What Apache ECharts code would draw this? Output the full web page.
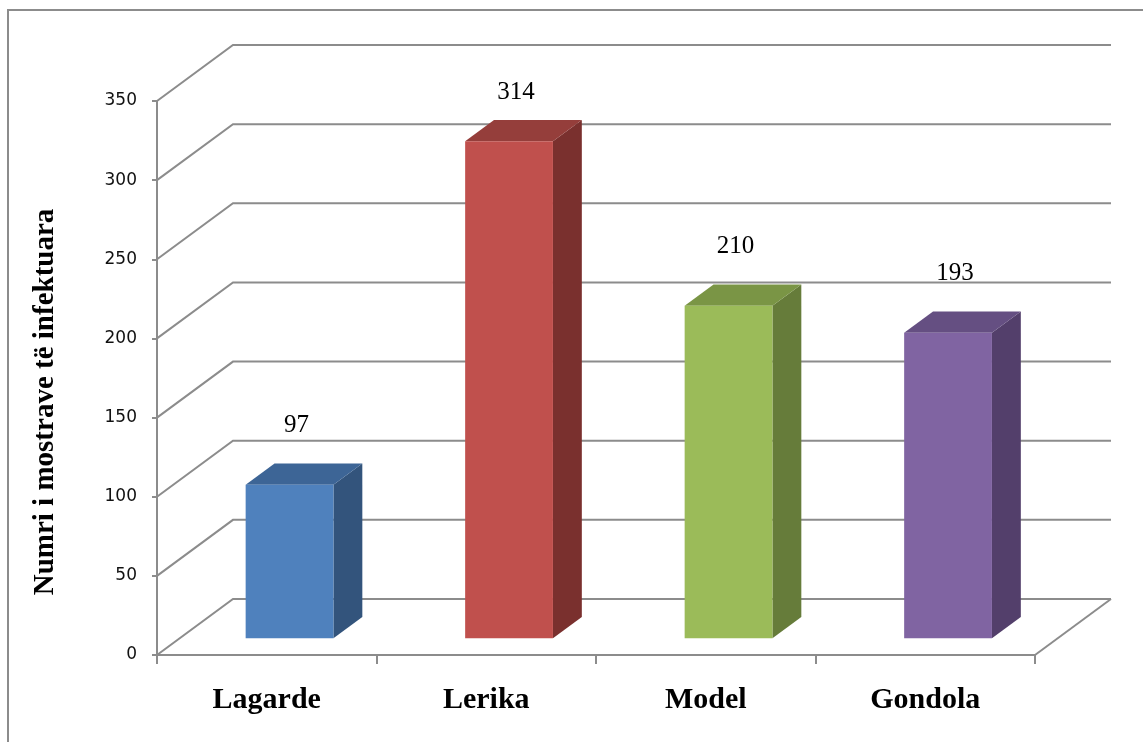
<!DOCTYPE html>
<html>
<head>
<meta charset="utf-8">
<style>
  html, body { margin: 0; padding: 0; background: #fff; }
  #chart { width: 1143px; height: 742px; }
</style>
<script src="https://cdn.jsdelivr.net/npm/echarts@6/dist/echarts.min.js"></script>
</head>
<body>
<div id="chart"></div>
<script>
// te dhenat
var categories = ['Lagarde', 'Lerika', 'Model', 'Gondola'];
var values = [97, 314, 210, 193];
var yTicks = [0, 50, 100, 150, 200, 250, 300, 350];

// ngjyrat e shtyllave (para, siper, anash)
var frontColors = ['#4F81BD', '#C0504D', '#9BBB59', '#8064A2'];
var topColors = ['#3D6596', '#953E3B', '#7A9545', '#654F82'];
var sideColors = ['#33547C', '#7A302E', '#667C3A', '#533F6B'];

var gridColor = '#8C8C8C';
// zhvendosja e murit te pasem (perspektiva)
var DX = 76, DY = -56;

var chart = echarts.init(document.getElementById('chart'));

var option = {
  animation: false,
  backgroundColor: '#fff',
  grid: { left: 157, top: 101, width: 878, height: 554 },
  graphic: [
    {
      type: 'rect',
      shape: { x: 8, y: 10, width: 1200, height: 800 },
      style: { fill: 'none', stroke: '#8C8C8C', lineWidth: 2 },
      silent: true
    },
    {
      type: 'text',
      x: 46, y: 402,
      rotation: Math.PI / 2,
      style: {
        text: 'Numri i mostrave të infektuara',
        font: 'bold 29px "Liberation Serif", serif',
        fill: '#000',
        align: 'center',
        verticalAlign: 'middle'
      }
    }
  ],
  xAxis: {
    type: 'category',
    data: categories,
    boundaryGap: true,
    axisLine: { lineStyle: { color: gridColor, width: 2 } },
    axisTick: { show: true, length: 9, lineStyle: { color: gridColor, width: 2 } },
    axisLabel: {
      margin: 30,
      color: '#000',
      fontFamily: 'Liberation Serif',
      fontWeight: 'bold',
      fontSize: 30
    }
  },
  yAxis: {
    type: 'value',
    min: 0,
    max: 350,
    interval: 50,
    axisLine: { show: true, lineStyle: { color: gridColor, width: 2 } },
    axisTick: { show: true, length: 5, lineStyle: { color: gridColor, width: 2 } },
    splitLine: { show: false },
    axisLabel: {
      margin: 20,
      color: '#111',
      fontFamily: 'DejaVu Sans',
      fontSize: 17
    }
  },
  series: [
    {
      // muret dhe vijat e rrjetit
      type: 'custom',
      z: 1,
      silent: true,
      data: yTicks.map(function (v) { return [0, v]; }),
      renderItem: function (params, api) {
        var cs = params.coordSys;
        var v = api.value(1);
        var yf = api.coord([0, v])[1];
        var x0 = cs.x, x1 = cs.x + cs.width;
        var children = [{
          type: 'polyline',
          shape: { points: [[x0, yf], [x0 + DX, yf + DY], [x1 + DX, yf + DY]] },
          style: { stroke: gridColor, lineWidth: 2, fill: 'none' }
        }];
        if (v === 0) {
          children.push({
            type: 'line',
            shape: { x1: x1, y1: yf, x2: x1 + DX, y2: yf + DY },
            style: { stroke: gridColor, lineWidth: 2 }
          });
        }
        return { type: 'group', children: children };
      }
    },
    {
      // shtyllat 3D
      type: 'custom',
      z: 2,
      data: values.map(function (v, i) { return [i, v]; }),
      renderItem: function (params, api) {
        var cs = params.coordSys;
        var i = api.value(0), v = api.value(1);
        var top = api.coord([i, v]);
        var base = api.coord([i, 0]);
        var band = api.size([1, 0])[0];
        var w = band * 0.4;
        var f = 0.3, d = 0.38;
        var fx = top[0] - w / 2 + f * DX;
        var fTop = top[1] + f * DY;
        var fBot = base[1] + f * DY;
        var ddx = d * DX, ddy = d * DY;
        // etiketa mbahet brenda zones se grafikut
        var ly = Math.max(fTop + ddy - 38, cs.y - 9);
        return {
          type: 'group',
          children: [
            {
              type: 'polygon',
              shape: { points: [[fx + w, fTop], [fx + w + ddx, fTop + ddy], [fx + w + ddx, fBot + ddy], [fx + w, fBot]] },
              style: { fill: sideColors[i] }
            },
            {
              type: 'polygon',
              shape: { points: [[fx, fTop], [fx + w, fTop], [fx + w + ddx, fTop + ddy], [fx + ddx, fTop + ddy]] },
              style: { fill: topColors[i] }
            },
            {
              type: 'rect',
              shape: { x: fx, y: fTop, width: w, height: fBot - fTop },
              style: { fill: frontColors[i] }
            },
            {
              type: 'text',
              x: fx + w / 2 + 7,
              y: ly,
              style: {
                text: String(v),
                font: '25px "Liberation Serif", serif',
                fill: '#000',
                align: 'center',
                verticalAlign: 'middle'
              }
            }
          ]
        };
      }
    }
  ]
};

chart.setOption(option);
</script>
</body>
</html>
